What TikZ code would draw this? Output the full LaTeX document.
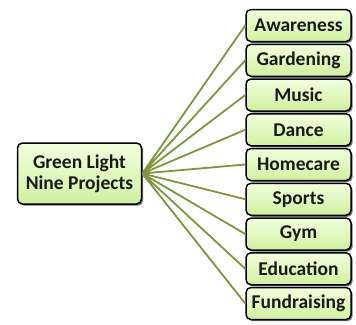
\documentclass[tikz,border=0pt]{standalone}
\usepackage{fontspec}
\setmainfont{Carlito}
\usetikzlibrary{shadows}

\definecolor{boxtop}{RGB}{242,255,222}
\definecolor{boxbot}{RGB}{208,240,158}
\definecolor{linkgreen}{RGB}{125,150,62}

\begin{document}
\begin{tikzpicture}[x=1pt,y=-1pt,
    every node/.style={draw=black,line width=1.5pt,rounded corners=5pt,
      top color=boxtop,bottom color=boxbot,text=black!90,
      font=\bfseries\fontsize{19.5}{21}\selectfont,align=center,inner sep=0,
      drop shadow={shadow xshift=1.6pt,shadow yshift=-1.6pt,opacity=0.55,fill=black}},
    leaf/.style={minimum width=105pt,minimum height=32pt},
    link/.style={draw=linkgreen,line width=1.8pt}]
  \useasboundingbox (0,0) rectangle (356,324);
  \node[minimum width=124pt,minimum height=61pt] (0) at (79.5,173.5) {Green Light\\Nine Projects};
  \node[leaf] (1) at (298.5,25.5) {Awareness};
  \node[leaf] (2) at (298.5,60.25) {Gardening};
  \node[leaf] (3) at (298.5,95) {Music};
  \node[leaf] (4) at (298.5,129.75) {Dance};
  \node[leaf] (5) at (298.5,164.5) {Homecare};
  \node[leaf] (6) at (298.5,199.25) {Sports};
  \node[leaf] (7) at (298.5,234) {Gym};
  \node[leaf] (8) at (298.5,268.75) {Education};
  \node[leaf] (9) at (298.5,303.5) {Fundraising};
  \draw[link] (0.east) -- (1.west) (0.east) -- (2.west) (0.east) -- (3.west);
  \draw[link] (0.east) -- (4.west) (0.east) -- (5.west) (0.east) -- (6.west);
  \draw[link] (0.east) -- (7.west) (0.east) -- (8.west) (0.east) -- (9.west);
\end{tikzpicture}
\end{document}
